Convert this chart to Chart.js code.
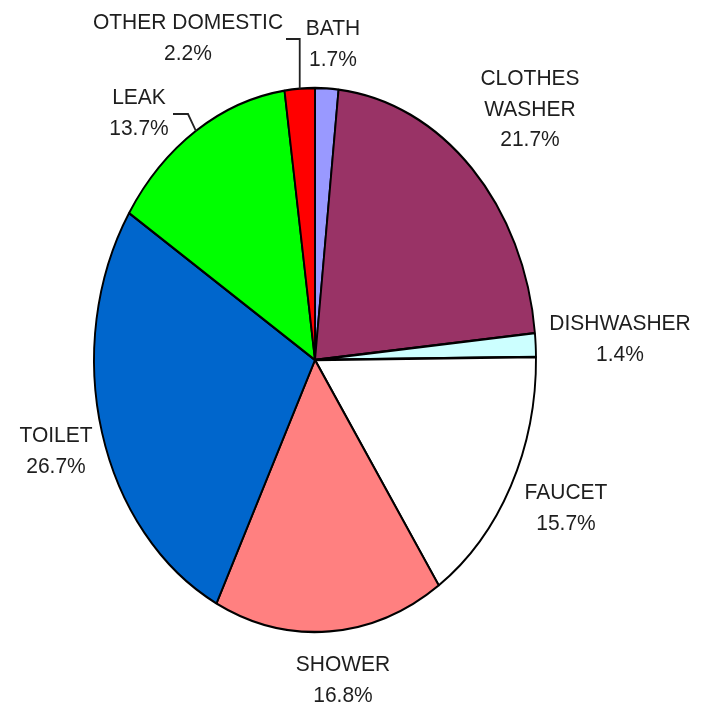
<!DOCTYPE html>
<html>
<head>
<meta charset="utf-8">
<title>Indoor water use</title>
<script src="https://cdn.jsdelivr.net/npm/chart.js@4/dist/chart.umd.min.js"></script>
<style>
  html, body { margin: 0; padding: 0; background: #fff; }
  #useChart { display: block; width: 704px; height: 705px; }
</style>
</head>
<body>
<canvas id="useChart" width="704" height="705"></canvas>
<script>
// Slices in clockwise order, starting at 12 o'clock
const categories = [
  "BATH",
  "CLOTHES WASHER",
  "DISHWASHER",
  "FAUCET",
  "SHOWER",
  "TOILET",
  "LEAK",
  "OTHER DOMESTIC",
];
const shares = [1.7, 21.7, 1.4, 15.7, 16.8, 26.7, 13.7, 2.2];
const shareLabels = ["1.7%", "21.7%", "1.4%", "15.7%", "16.8%", "26.7%", "13.7%", "2.2%"];
const sliceColors = [
  "#9999ff",
  "#993366",
  "#ccffff",
  "#ffffff",
  "#ff8080",
  "#0066cc",
  "#00ff00",
  "#ff0000",
];

document.addEventListener("DOMContentLoaded", function () {
  const ctx = document.getElementById("useChart").getContext("2d");

  // the source picture is stretched vertically: pie is an ellipse 221 x 272
  const stretchY = 272 / 221;
  const textStretch = 1.08;

  // label placement (centre x, y of first text line) and line breaks
  const labelLayout = [
    { lines: ["BATH"], x: 333, y: 27 },
    { lines: ["CLOTHES", "WASHER"], x: 530, y: 77 },
    { lines: ["DISHWASHER"], x: 620, y: 322 },
    { lines: ["FAUCET"], x: 566, y: 491 },
    { lines: ["SHOWER"], x: 343, y: 663 },
    { lines: ["TOILET"], x: 56, y: 434 },
    { lines: ["LEAK"], x: 139, y: 96 },
    { lines: ["OTHER DOMESTIC"], x: 188, y: 21 },
  ];
  // leader lines: elbow and end point, start is the arc mid point
  const leaders = {
    6: [[188, 114], [173, 114]],
    7: [[null, 39], [286, 39]],
  };

  function arcMidPoint(arc) {
    const a = (arc.startAngle + arc.endAngle) / 2;
    return {
      x: arc.x + arc.outerRadius * Math.cos(a),
      y: arc.y + arc.outerRadius * Math.sin(a) * stretchY,
    };
  }

  const stretchPlugin = {
    id: "stretch",
    beforeDatasetsDraw(chart) {
      const arc = chart.getDatasetMeta(0).data[0];
      const c = chart.ctx;
      c.save();
      c.translate(arc.x, arc.y);
      c.scale(1, stretchY);
      c.translate(-arc.x, -arc.y);
    },
    afterDatasetsDraw(chart) {
      chart.ctx.restore();
    },
  };

  const labelPlugin = {
    id: "sliceLabels",
    afterDraw(chart) {
      const c = chart.ctx;
      const arcs = chart.getDatasetMeta(0).data;
      c.save();

      c.strokeStyle = "#222";
      c.lineWidth = 1.8;
      Object.keys(leaders).forEach((k) => {
        const p = arcMidPoint(arcs[k]);
        const pts = leaders[k];
        c.beginPath();
        c.moveTo(p.x, p.y);
        pts.forEach((pt) => {
          c.lineTo(pt[0] === null ? p.x : pt[0], pt[1]);
        });
        c.stroke();
      });

      c.fillStyle = "#1e1e1e";
      c.font = "21px 'Liberation Sans', Arial, sans-serif";
      c.textAlign = "center";
      c.textBaseline = "alphabetic";
      const lineHeight = 30.5;
      labelLayout.forEach((lab, i) => {
        const lines = lab.lines.concat([shareLabels[i]]);
        lines.forEach((t, j) => {
          c.save();
          c.translate(lab.x, lab.y + 8 + j * lineHeight);
          c.scale(1, textStretch);
          c.fillText(t, 0, 0);
          c.restore();
        });
      });
      c.restore();
    },
  };

  new Chart(ctx, {
    type: "pie",
    data: {
      labels: categories,
      datasets: [
        {
          data: shares,
          backgroundColor: sliceColors,
          borderColor: "#000",
          borderWidth: 1.9,
          radius: 221,
          clip: false,
        },
      ],
    },
    options: {
      responsive: false,
      animation: false,
      devicePixelRatio: 1,
      layout: { padding: { left: 94, right: 168, top: 139, bottom: 124 } },
      plugins: {
        legend: { display: false },
        tooltip: { enabled: false },
      },
    },
    plugins: [stretchPlugin, labelPlugin],
  });
});
</script>
</body>
</html>
